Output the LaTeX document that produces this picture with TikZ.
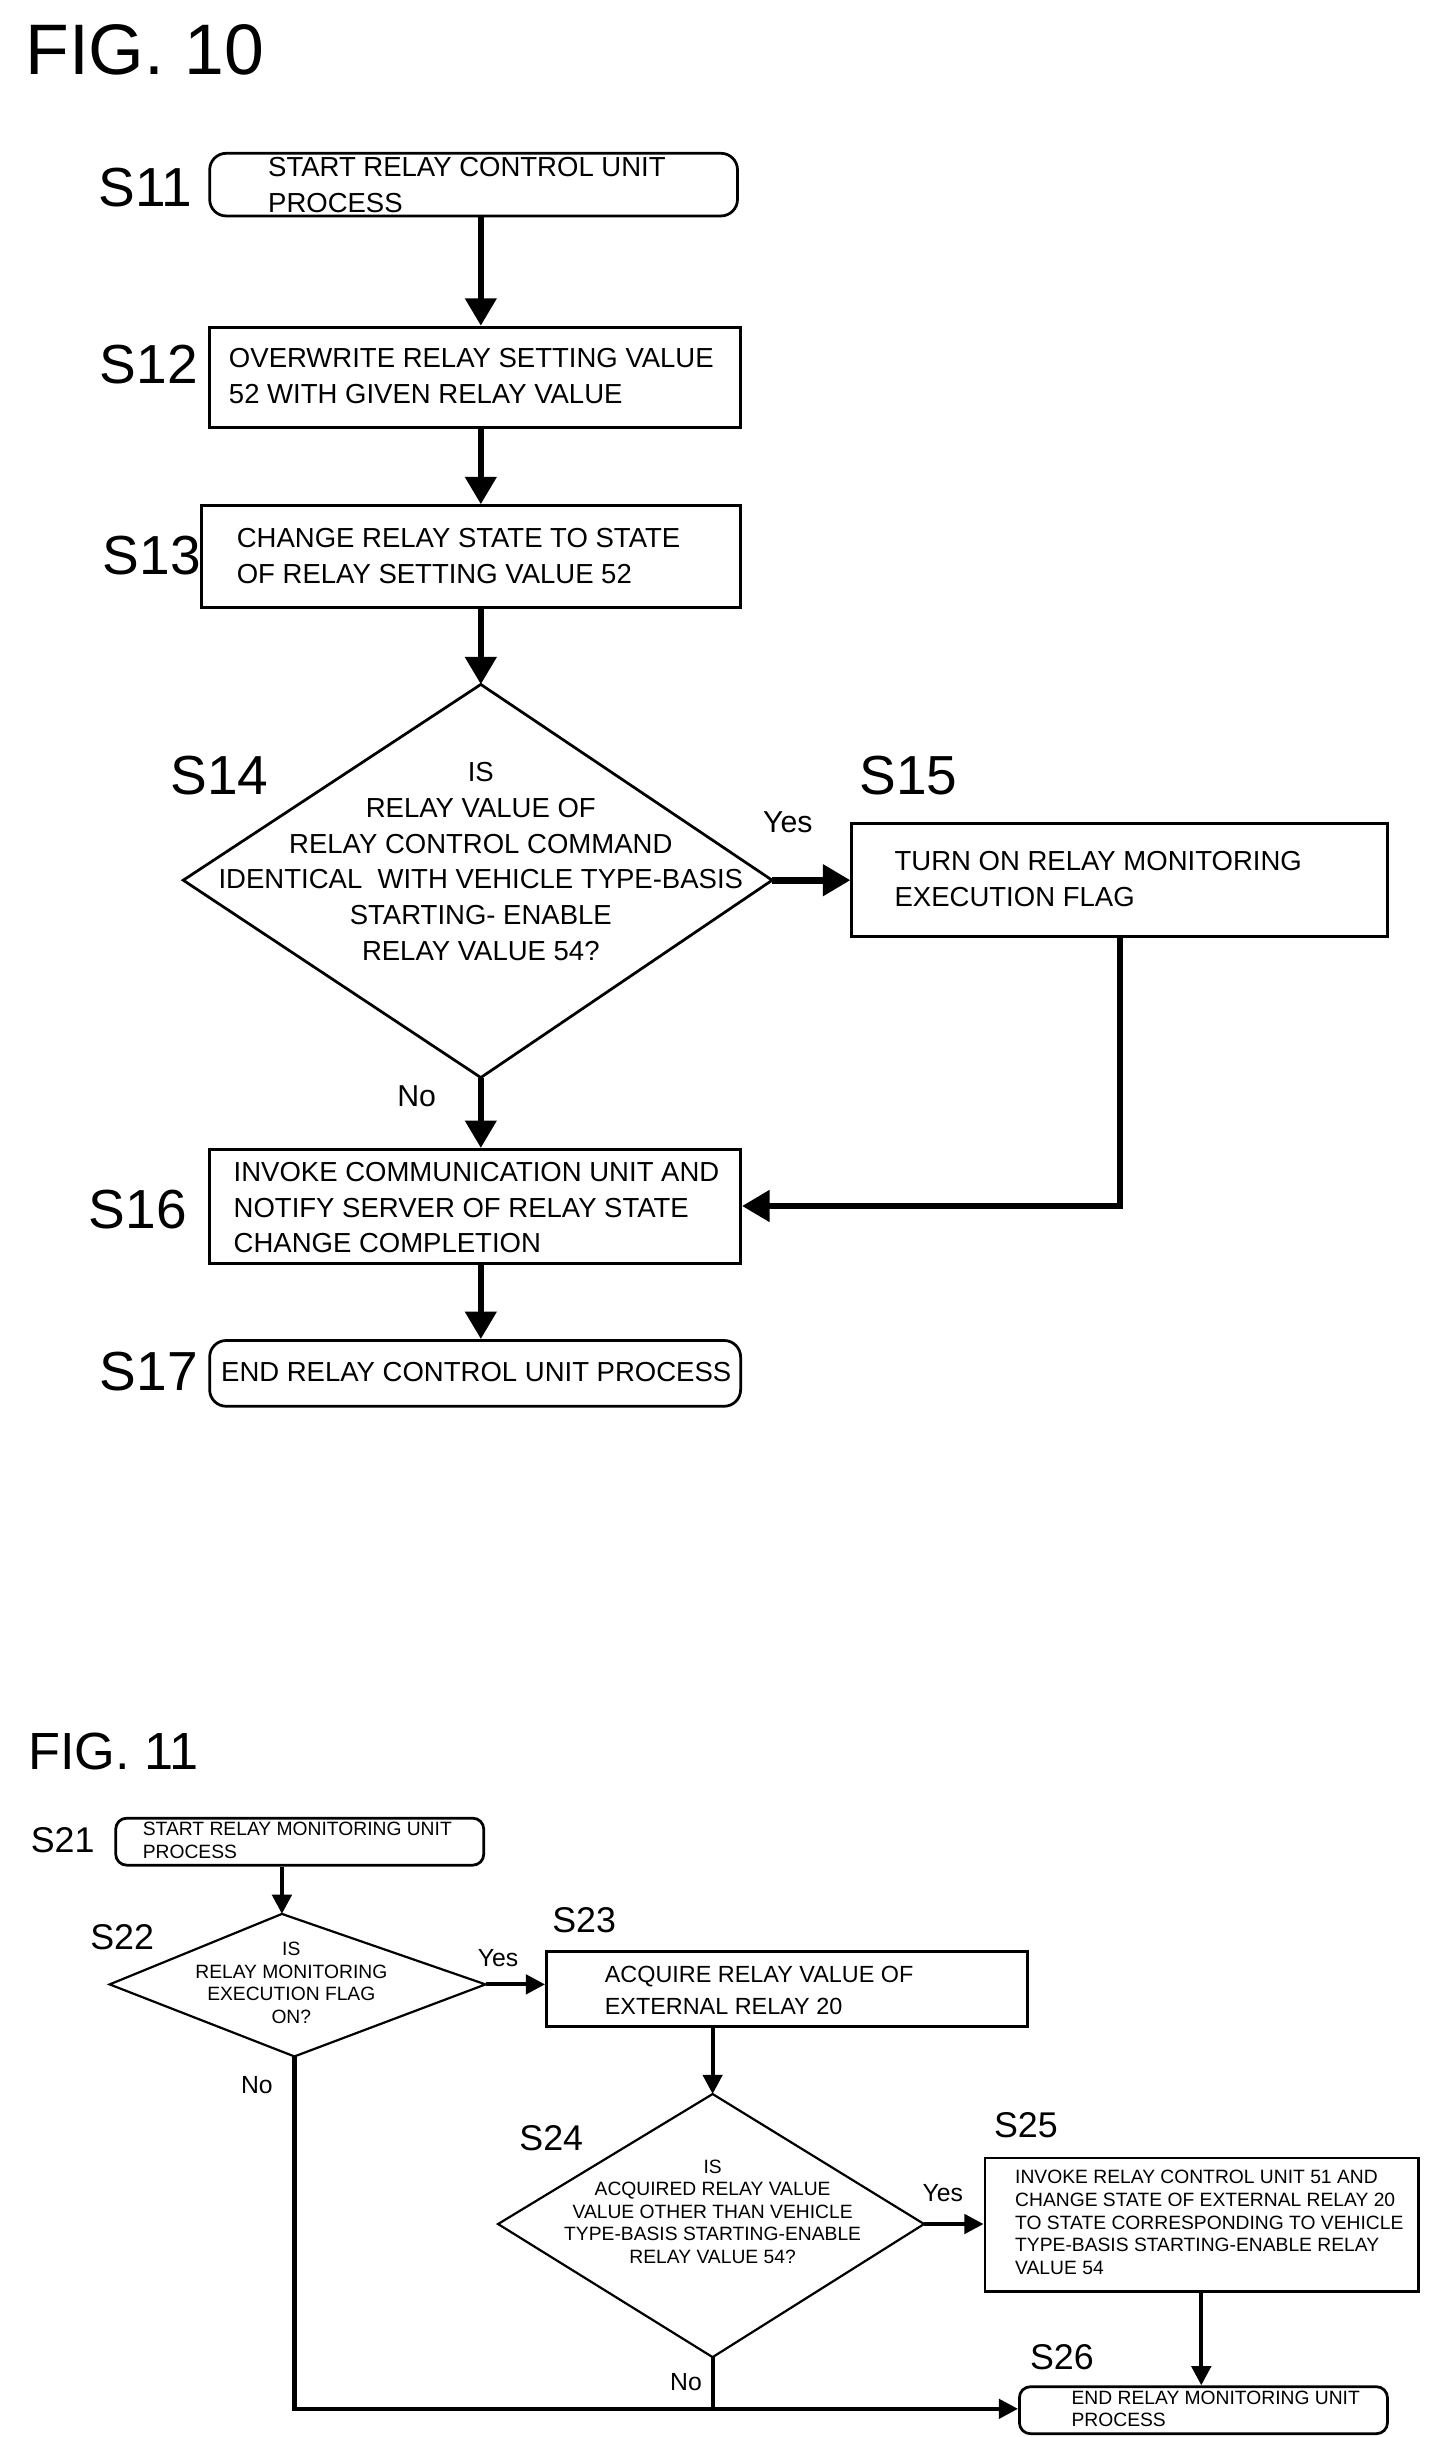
\documentclass[tikz,border=0pt]{standalone}
\usepackage{fontspec}
\setmainfont{Liberation Sans}
\usetikzlibrary{arrows.meta,positioning}
\begin{document}
\begin{tikzpicture}[x=0.02cm,y=-0.02cm,
  box/.style={draw, line width=1pt, align=left, anchor=north west, inner xsep=0pt, inner ysep=0pt},
  tenfont/.style={font=\fontsize{10}{13}\selectfont},
  elfont/.style={font=\fontsize{7}{8.2}\selectfont},
  slab/.style={font=\fontsize{20}{20}\selectfont},
  slabs/.style={font=\fontsize{13}{13}\selectfont},
  flowa/.style={line width=2.4pt, -{Triangle[length=10pt,width=11pt]}},
  flowb/.style={line width=1.5pt, -{Triangle[length=7pt,width=7pt]}}]
\useasboundingbox (0,0) rectangle (914,1556);
% FIG. 10
\node[font=\fontsize{26}{26}\selectfont, anchor=west] (fig10) at (10,32) {FIG. 10};
\node[box, rounded corners=6pt, minimum width=337*0.02cm, minimum height=40*0.02cm] (s11) at (133,97) {};
\node[tenfont, align=left, anchor=west] at (165,118) {START RELAY CONTROL UNIT\\PROCESS};
\node[slab] at (93,120) {S11};
\node[box, minimum width=339*0.02cm, minimum height=64*0.02cm] (s12) at (133,208) {};
\node[tenfont, align=left, anchor=west] at (140,240) {OVERWRITE RELAY SETTING VALUE\\52 WITH GIVEN RELAY VALUE};
\node[slab] at (95,233) {S12};
\node[box, minimum width=344*0.02cm, minimum height=65*0.02cm] (s13) at (128,322) {};
\node[tenfont, align=left, anchor=west] at (145,355) {CHANGE RELAY STATE TO STATE\\OF RELAY SETTING VALUE 52};
\node[slab] at (97,355) {S13};
% diamond S14
\coordinate (s14t) at (307,437); \coordinate (s14r) at (493,562);
\coordinate (s14b) at (307,688); \coordinate (s14l) at (117,562);
\draw[line width=1pt] (s14t) -- (s14r) -- (s14b) -- (s14l) -- cycle;
\node[tenfont, align=center] (s14) at (307,550) {IS\\RELAY VALUE OF\\RELAY CONTROL COMMAND\\IDENTICAL\ \ WITH VEHICLE TYPE-BASIS\\STARTING- ENABLE\\RELAY VALUE 54?};
\node[slab] at (140,495) {S14};
\node[box, minimum width=342*0.02cm, minimum height=72*0.02cm] (s15) at (543,525) {};
\node[tenfont, align=left, anchor=west] at (565,561) {TURN ON RELAY MONITORING\\EXECUTION FLAG};
\node[slab] at (580,495) {S15};
\node[box, minimum width=339*0.02cm, minimum height=73*0.02cm] (s16) at (133,733) {};
\node[tenfont, align=left, anchor=west] at (143,771) {INVOKE COMMUNICATION UNIT AND\\NOTIFY SERVER OF RELAY STATE\\CHANGE COMPLETION};
\node[slab] at (88,772) {S16};
\node[box, rounded corners=6pt, minimum width=339*0.02cm, minimum height=42*0.02cm] (s17) at (133,855) {};
\node[tenfont, anchor=west] at (135,876) {END RELAY CONTROL UNIT PROCESS};
\node[slab] at (95,876) {S17};
\draw[flowa] (s11.south -| s14t) -- (s12.north -| s14t);
\draw[flowa] (s12.south -| s14t) -- (s13.north -| s14t);
\draw[flowa] (s13.south -| s14t) -- (s14t);
\draw[flowa] (s14r) -- (s15.west |- s14r);
\draw[flowa] (s14b) -- (s16.north -| s14b);
\draw[flowa] (s15.south -| 715,0) -- (715,770) -- (s16.east |- 0,770);
\draw[flowa] (s16.south -| s14t) -- (s17.north -| s14t);
\node[font=\fontsize{11}{11}\selectfont] at (503,525) {Yes};
\node[font=\fontsize{11}{11}\selectfont] at (266,700) {No};
% FIG. 11
\node[font=\fontsize{19}{19}\selectfont, anchor=west] (fig11) at (12,1118) {FIG. 11};
\node[box, rounded corners=4pt, minimum width=235*0.02cm, minimum height=30*0.02cm] (s21) at (73,1160) {};
\node[elfont, align=left, anchor=west] at (85,1175) {START RELAY MONITORING UNIT\\PROCESS};
\node[slabs] at (40,1175) {S21};
\coordinate (s22t) at (180,1222); \coordinate (s22r) at (310,1267);
\coordinate (s22b) at (188,1313); \coordinate (s22l) at (70,1267);
\draw[line width=0.8pt] (s22t) -- (s22r) -- (s22b) -- (s22l) -- cycle;
\node[elfont, align=center] (s22) at (186,1266) {IS\\RELAY MONITORING\\EXECUTION FLAG\\ON?};
\node[slabs] at (78,1237) {S22};
\node[box, minimum width=307*0.02cm, minimum height=48*0.02cm] (s23) at (348,1245) {};
\node[font=\fontsize{8.5}{11.5}\selectfont, align=left, anchor=west] at (380,1271) {ACQUIRE RELAY VALUE OF\\EXTERNAL RELAY 20};
\node[slabs] at (373,1226) {S23};
\coordinate (s24t) at (455,1337); \coordinate (s24r) at (590,1420);
\coordinate (s24b) at (455,1505); \coordinate (s24l) at (318,1420);
\draw[line width=0.8pt] (s24t) -- (s24r) -- (s24b) -- (s24l) -- cycle;
\node[elfont, align=center] (s24) at (455,1412) {IS\\ACQUIRED RELAY VALUE\\VALUE OTHER THAN VEHICLE\\TYPE-BASIS STARTING-ENABLE\\RELAY VALUE 54?};
\node[slabs] at (352,1365) {S24};
\node[box, minimum width=277*0.02cm, minimum height=85*0.02cm] (s25) at (628,1377) {};
\node[elfont, align=left, anchor=west] at (642,1419) {INVOKE RELAY CONTROL UNIT 51 AND\\CHANGE STATE OF EXTERNAL RELAY 20\\TO STATE CORRESPONDING TO VEHICLE\\TYPE-BASIS STARTING-ENABLE RELAY\\VALUE 54};
\node[slabs] at (655,1357) {S25};
\node[box, rounded corners=4pt, minimum width=235*0.02cm, minimum height=30*0.02cm] (s26) at (650,1523) {};
\node[elfont, align=left, anchor=west] at (678,1538) {END RELAY MONITORING UNIT\\PROCESS};
\node[slabs] at (678,1505) {S26};
\draw[flowb] (s21.south -| s22t) -- (s22t);
\draw[flowb] (s22r) -- (s23.west |- s22r);
\draw[flowb] (s23.south -| s24t) -- (s24t);
\draw[flowb] (s24r) -- (s25.west |- s24r);
\draw[flowb] (s25.south -| 767,0) -- (s26.north -| 767,0);
\draw[flowb] (s22b) -- (188,1538) -- (s26.west |- 0,1538);
\draw[line width=1.5pt] (s24b) -- (455,1538);
\node[font=\fontsize{9}{9}\selectfont] at (318,1250) {Yes};
\node[font=\fontsize{9}{9}\selectfont] at (602,1400) {Yes};
\node[font=\fontsize{9}{9}\selectfont] at (164,1331) {No};
\node[font=\fontsize{9}{9}\selectfont] at (438,1521) {No};
\end{tikzpicture}
\end{document}
